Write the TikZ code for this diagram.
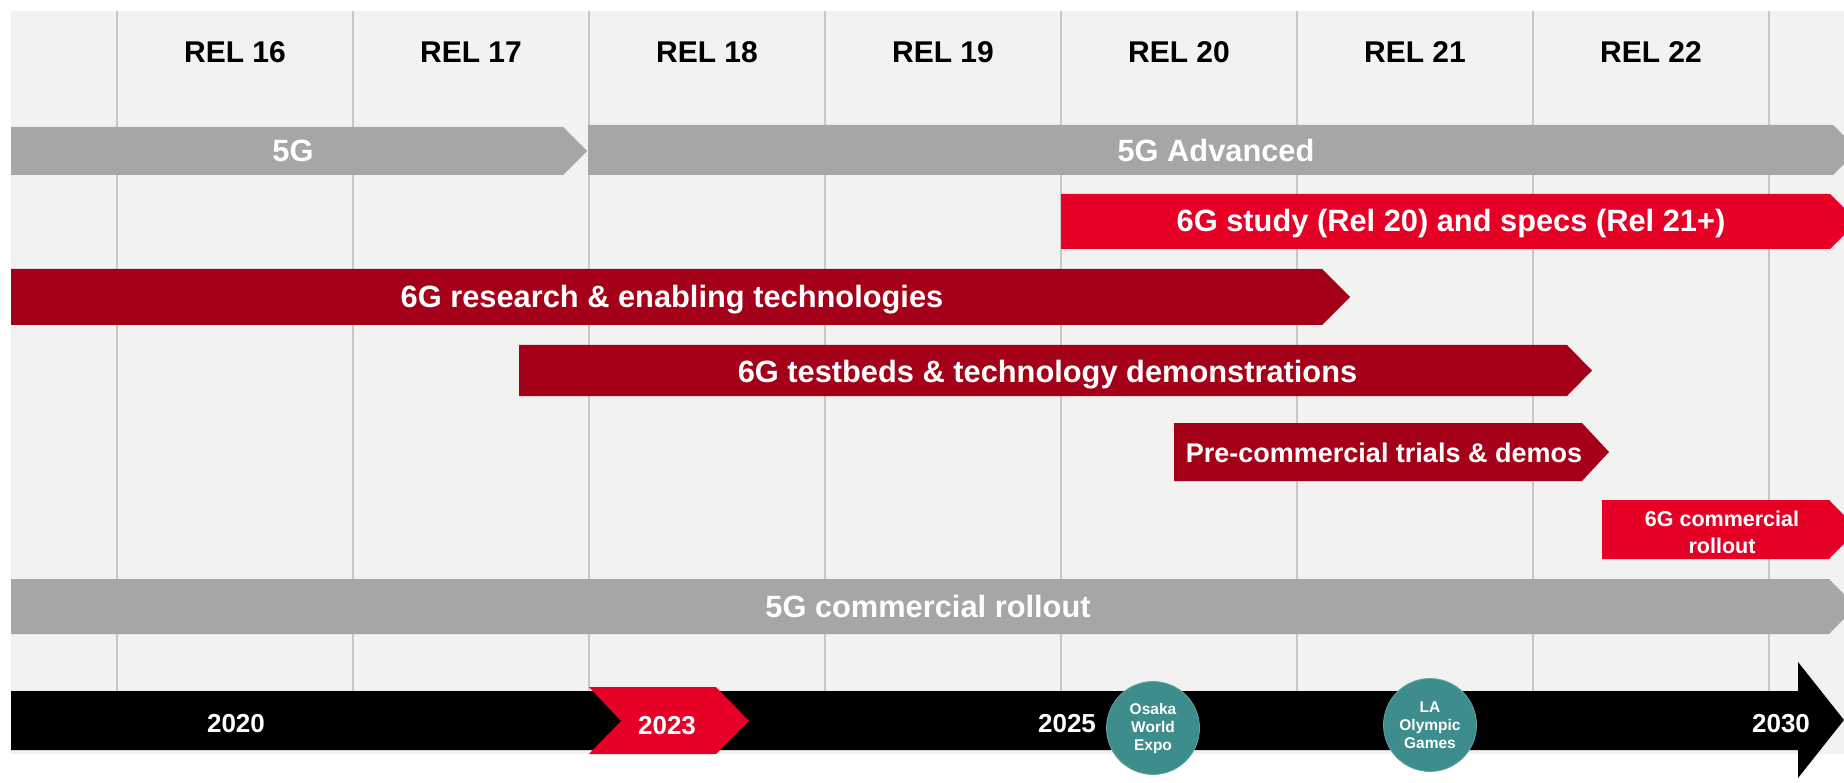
\documentclass[tikz,border=0pt]{standalone}
\usepackage{fontspec}
\setmainfont{Liberation Sans}
\definecolor{panelbg}{HTML}{F2F2F0}
\definecolor{gridgray}{HTML}{C8C8C8}
\definecolor{bargray}{HTML}{A6A6A6}
\definecolor{darkred}{HTML}{A50019}
\definecolor{brightred}{HTML}{E60026}
\definecolor{tealc}{HTML}{3D8D8C}
\begin{document}
\begin{tikzpicture}[x=1pt,y=-1pt,
  gridline/.style={draw=gridgray,line width=1.3pt},
  graybar/.style={fill=bargray},
  redbar/.style={fill=darkred},
  brightbar/.style={fill=brightred},
  rel/.style={anchor=base,inner sep=0pt,text=black,font=\bfseries\fontsize{30}{36}\selectfont},
  barlbl/.style={anchor=base,inner sep=0pt,text=white,font=\bfseries\fontsize{30.8}{36}\selectfont},
  yearlbl/.style={anchor=base,inner sep=0pt,text=white,font=\bfseries\fontsize{26}{30}\selectfont},
  event/.style={circle,fill=tealc,draw=tealc!80!white,line width=0.8pt,minimum size=93pt,inner sep=0pt,align=center,text=white,font=\bfseries\fontsize{15.5}{18}\selectfont}
]
\useasboundingbox (0,0) rectangle (1844,783);
\clip (0,0) rectangle (1844,783);
\fill[white] (0,0) rectangle (1844,783);
\fill[panelbg] (11,11) rectangle (1844,754);
\foreach \x in {117,353,589,825,1061,1297,1533,1769}
  \draw[gridline] (\x,11) -- (\x,691);

% release headers
\node[rel] (rel16) at (235,63) {REL 16};
\node[rel] (rel17) at (471,63) {REL 17};
\node[rel] (rel18) at (707,63) {REL 18};
\node[rel] (rel19) at (943,63) {REL 19};
\node[rel] (rel20) at (1179,63) {REL 20};
\node[rel] (rel21) at (1415,63) {REL 21};
\node[rel] (rel22) at (1651,63) {REL 22};

% bars
\fill[graybar] (11,127) -- (563,127) -- (587,151) -- (563,175) -- (11,175) -- cycle;
\fill[graybar] (588,125) -- (1833,125) -- (1858,150) -- (1833,175) -- (588,175) -- cycle;
\fill[brightbar] (1061,194) -- (1830,194) -- (1857.5,221.5) -- (1830,249) -- (1061,249) -- cycle;
\fill[redbar] (11,269) -- (1322,269) -- (1350,297) -- (1322,325) -- (11,325) -- cycle;
\fill[redbar] (519,345) -- (1567,345) -- (1592,370.5) -- (1567,396) -- (519,396) -- cycle;
\fill[redbar] (1174,423) -- (1582,423) -- (1609,452) -- (1582,481) -- (1174,481) -- cycle;
\fill[brightbar] (1602,500) -- (1829,500) -- (1858,529.5) -- (1829,559) -- (1602,559) -- cycle;
\fill[graybar] (11,579) -- (1829,579) -- (1856,606.5) -- (1829,634) -- (11,634) -- cycle;

\node[barlbl] (l5g) at (293,162) {5G};
\node[barlbl] (l5gadv) at (1216,162) {5G Advanced};
\node[barlbl] (lstudy) at (1451,232) {6G study (Rel 20) and specs (Rel 21+)};
\node[barlbl] (lresearch) at (672,308) {6G research \& enabling technologies};
\node[barlbl] (ltestbeds) at (1047.5,382) {6G testbeds \& technology demonstrations};
\node[barlbl,font=\bfseries\fontsize{27}{32}\selectfont] (lprecomm) at (1384,462) {Pre-commercial trials \& demos};
\node[barlbl,font=\bfseries\fontsize{21.5}{27}\selectfont] (l6gcomm1) at (1722,526) {6G commercial};
\node[barlbl,font=\bfseries\fontsize{21.5}{27}\selectfont] (l6gcomm2) at (1722,553) {rollout};
\node[barlbl] (l5gcomm) at (928,617) {5G commercial rollout};

% timeline
\fill[black] (11,691) -- (1798,691) -- (1798,662) -- (1844,720) -- (1798,778) -- (1798,750) -- (11,750) -- cycle;
\fill[brightred] (589,687) -- (716,687) -- (749,721) -- (716,754) -- (589,754) -- (621,721) -- cycle;
\node[yearlbl] (y2020) at (236,732) {2020};
\node[yearlbl] (y2023) at (667,734) {2023};
\node[yearlbl] (y2025) at (1067,732) {2025};
\node[yearlbl] (y2030) at (1781,732) {2030};

\node[event] (osaka) at (1153,728) {Osaka\\World\\Expo};
\node[event] (la) at (1430,725) {LA\\Olympic\\Games};
\end{tikzpicture}
\end{document}
